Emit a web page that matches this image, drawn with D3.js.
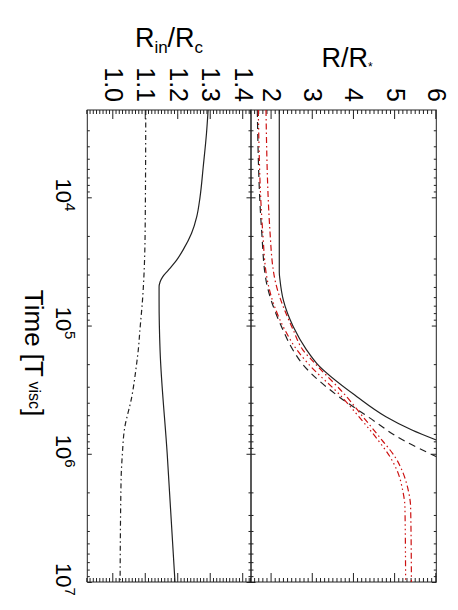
<!DOCTYPE html>
<head>
<meta charset='utf-8'>
<style>
  body { margin: 0; background: #fff; }
  svg text { font-family: 'Liberation Sans', Arial, Helvetica, sans-serif; fill: #000; }
  .domain { display: none; }
  .tick line { stroke: #222; stroke-width: 1; }
  .frame { fill: none; stroke: #222; stroke-width: 1; }
</style>
</head>
<body>
<div id='vis'></div>
<script src='https://d3js.org/d3.v7.min.js'></script>
<script>
  // time is stored as log10(T / T_visc)
  const timeDomain = [3.319, 7]

  // upper panel: R / R*
  const rSolidT = [3.319, 4.585, 4.645, 4.80, 5.009, 5.191, 5.295, 5.555, 5.711, 5.815, 5.893]
  const rSolidV = [2.187, 2.187, 2.204, 2.284, 2.527, 2.852, 3.095, 4.073, 4.777, 5.408, 5.998]

  const rDashT = [3.319, 4.268, 4.645, 5.035, 5.191, 5.295, 5.555, 5.711, 5.893, 6.023]
  const rDashV = [1.653, 1.760, 1.864, 2.277, 2.519, 2.738, 3.636, 4.340, 5.189, 6.007]

  const rRedDotT = [3.319, 4.268, 4.645, 5.035, 5.191, 5.295, 5.555, 5.711, 5.893, 6.023, 6.153, 6.283, 6.413, 7.0]
  const rRedDotV = [1.677, 1.784, 1.896, 2.325, 2.617, 2.883, 3.701, 4.12, 4.583, 4.874, 5.075, 5.182, 5.238, 5.255]

  const rRedDashDotT = [3.319, 4.268, 4.645, 5.035, 5.191, 5.295, 5.555, 5.711, 5.893, 6.023, 6.153, 6.283, 6.413, 7.0]
  const rRedDashDotV = [1.864, 1.961, 2.083, 2.527, 2.762, 3.053, 3.823, 4.218, 4.680, 4.995, 5.197, 5.318, 5.376, 5.396]

  // lower panel: R_in / R_c
  const rcSolidT = [3.319, 3.50, 3.76, 4.00, 4.15, 4.28, 4.41, 4.49, 4.57, 4.62, 4.66, 4.70, 4.80, 5.19, 6.00, 7.00]
  const rcSolidV = [1.292, 1.287, 1.277, 1.267, 1.257, 1.241, 1.215, 1.195, 1.169, 1.152, 1.144, 1.141, 1.141, 1.144, 1.166, 1.190]

  const rcDashDotT = [3.319, 4.28, 4.80, 5.035, 5.19, 5.295, 5.555, 5.815, 6.0, 6.205, 7.0]
  const rcDashDotV = [1.100, 1.098, 1.090, 1.082, 1.077, 1.072, 1.057, 1.034, 1.028, 1.024, 1.021]

  const rTicks = [2, 3, 4, 5, 6]
  const rcTicks = [1.0, 1.1, 1.2, 1.3, 1.4]
  const timeTicks = [4, 5, 6, 7]

  // the figure is drawn upright and then turned a quarter turn clockwise
  const W = 472, topH = 185.3, botH = 163.7
  const ox = 436.3, oy = 110

  const svg = d3.select('#vis').append('svg')
    .attr('width', 458)
    .attr('height', 610)

  const x = d3.scaleLog().domain(timeDomain.map(d => 10 ** d)).range([0, W])
  const yTop = d3.scaleLinear().domain([1.5, 6]).range([topH, 0])
  const yBot = d3.scaleLinear().domain([0.92, 1.424]).range([topH + botH, topH])

  const g = svg.append('g')
    .attr('transform', `translate(${ox},${oy}) rotate(90)`)

  const defs = svg.append('defs')
  defs.append('clipPath').attr('id', 'clipTop')
    .append('rect').attr('x', 0).attr('y', 0).attr('width', W).attr('height', topH)
  defs.append('clipPath').attr('id', 'clipBot')
    .append('rect').attr('x', 0).attr('y', topH).attr('width', W).attr('height', botH)

  // minor ticks
  const minorT = []
  for (let e = 3; e < 7; e++) {
    for (let m = 2; m < 10; m++) {
      const v = m * 10 ** e
      if (v >= x.domain()[0] && v <= x.domain()[1]) minorT.push(v)
    }
  }
  const minorR = d3.range(15, 61).map(d => d / 10).filter(d => !rTicks.includes(d))
  const minorRc = d3.range(92, 143).map(d => d / 100).filter(d => Math.round(d * 100) % 10 !== 0)

  function hAxes(y0, y1) {
    // time ticks along both long edges of a panel, pointing inward
    g.append('g').attr('transform', `translate(0,${y0})`)
      .call(d3.axisTop(x).tickValues(minorT).tickSize(-2.5).tickFormat(''))
    g.append('g').attr('transform', `translate(0,${y0})`)
      .call(d3.axisTop(x).tickValues(timeTicks.map(d => 10 ** d)).tickSize(-4.5).tickFormat(''))
    g.append('g').attr('transform', `translate(0,${y1})`)
      .call(d3.axisBottom(x).tickValues(minorT).tickSize(-2.5).tickFormat(''))
    return g.append('g').attr('transform', `translate(0,${y1})`)
      .call(d3.axisBottom(x).tickValues(timeTicks.map(d => 10 ** d)).tickSize(-4.5).tickFormat(''))
  }

  function vAxes(scale, majors, minors, fmt) {
    g.append('g')
      .call(d3.axisLeft(scale).tickValues(minors).tickSize(-4).tickFormat(''))
    g.append('g').attr('transform', `translate(${W},0)`)
      .call(d3.axisRight(scale).tickValues(minors).tickSize(-4).tickFormat(''))
    g.append('g').attr('transform', `translate(${W},0)`)
      .call(d3.axisRight(scale).tickValues(majors).tickSize(-9).tickFormat(''))
    g.append('g')
      .call(d3.axisLeft(scale).tickValues(majors).tickSize(-9).tickPadding(8).tickFormat(fmt))
      .selectAll('text')
      .attr('font-size', 25)
  }

  hAxes(0, topH)
  const bottomAxis = hAxes(topH, topH + botH)
  vAxes(yTop, rTicks, minorR, d3.format('d'))
  vAxes(yBot, rcTicks, minorRc, d3.format('.1f'))

  // 10^n labels under the time axis
  bottomAxis.selectAll('.tick').each(function (d) {
    const t = d3.select(this).append('text')
      .attr('y', 31)
      .attr('x', -3)
      .attr('text-anchor', 'middle')
      .attr('font-size', 22)
    t.append('tspan').text('10')
    t.append('tspan').attr('font-size', 15).attr('dy', -9).text(Math.round(Math.log10(d)))
  })

  g.append('rect').attr('class', 'frame')
    .attr('x', 0).attr('y', 0).attr('width', W).attr('height', topH)
  g.append('rect').attr('class', 'frame')
    .attr('x', 0).attr('y', topH).attr('width', W).attr('height', botH)

  function series(ts, vs) {
    return ts.map((t, i) => [t, vs[i]])
  }

  const lineTop = d3.line().x(d => x(10 ** d[0])).y(d => yTop(d[1])).curve(d3.curveMonotoneX)
  const lineBot = d3.line().x(d => x(10 ** d[0])).y(d => yBot(d[1])).curve(d3.curveMonotoneX)

  const topLines = [
    { data: series(rSolidT, rSolidV), color: '#222', dash: null },
    { data: series(rDashT, rDashV), color: '#222', dash: '7,5' },
    { data: series(rRedDotT, rRedDotV), color: '#cc1111', dash: '6,3,1.5,3,1.5,3,1.5,3' },
    { data: series(rRedDashDotT, rRedDashDotV), color: '#cc1111', dash: '6,3,1.5,3' }
  ]
  const botLines = [
    { data: series(rcSolidT, rcSolidV), color: '#222', dash: null },
    { data: series(rcDashDotT, rcDashDotV), color: '#222', dash: '5,3,1.5,3' }
  ]

  g.append('g').attr('clip-path', 'url(#clipTop)')
    .selectAll('path').data(topLines).enter().append('path')
    .attr('d', d => lineTop(d.data))
    .attr('fill', 'none')
    .attr('stroke', d => d.color)
    .attr('stroke-width', 1.2)
    .attr('stroke-dasharray', d => d.dash)

  g.append('g').attr('clip-path', 'url(#clipBot)')
    .selectAll('path').data(botLines).enter().append('path')
    .attr('d', d => lineBot(d.data))
    .attr('fill', 'none')
    .attr('stroke', d => d.color)
    .attr('stroke-width', 1.2)
    .attr('stroke-dasharray', d => d.dash)

  // time axis title
  const tt = g.append('text')
    .attr('x', 243).attr('y', 411)
    .attr('text-anchor', 'middle')
    .attr('font-size', 26)
  tt.append('tspan').text('Time [T')
  tt.append('tspan').attr('font-size', 16).attr('dy', -4).text(' visc')
  tt.append('tspan').attr('dy', 4).text(']')

  // value axis titles (horizontal once turned)
  const t1 = svg.append('text')
    .attr('x', 347).attr('y', 67)
    .attr('text-anchor', 'middle')
    .attr('font-size', 27)
  t1.append('tspan').text('R/R')
  t1.append('tspan').attr('font-size', 12).attr('dy', 4).text('*')

  const t2 = svg.append('text')
    .attr('x', 169).attr('y', 47)
    .attr('text-anchor', 'middle')
    .attr('font-size', 27)
  t2.append('tspan').text('R')
  t2.append('tspan').attr('font-size', 17).attr('dy', 6).text('in')
  t2.append('tspan').attr('dy', -6).text('/R')
  t2.append('tspan').attr('font-size', 17).attr('dy', 6).text('c')
</script>
</body>
